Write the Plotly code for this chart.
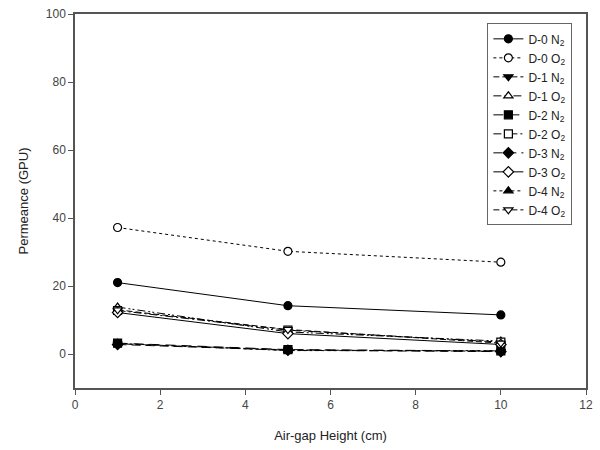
import plotly.graph_objects as go

x_vals = [1, 5, 10]

names = ["D-0 N<sub>2</sub>", "D-0 O<sub>2</sub>", "D-1 N<sub>2</sub>", "D-1 O<sub>2</sub>",
         "D-2 N<sub>2</sub>", "D-2 O<sub>2</sub>", "D-3 N<sub>2</sub>", "D-3 O<sub>2</sub>",
         "D-4 N<sub>2</sub>", "D-4 O<sub>2</sub>"]

d0_n2 = [21.0, 14.2, 11.5]
d0_o2 = [37.2, 30.2, 27.0]
d1_n2 = [3.0, 1.2, 0.8]
d1_o2 = [13.8, 6.5, 3.8]
d2_n2 = [3.2, 1.3, 0.9]
d2_o2 = [12.8, 7.0, 3.5]
d3_n2 = [2.8, 1.1, 0.7]
d3_o2 = [12.2, 6.0, 2.8]
d4_n2 = [3.1, 1.0, 1.0]
d4_o2 = [13.0, 7.2, 3.2]

series = [d0_n2, d0_o2, d1_n2, d1_o2, d2_n2, d2_o2, d3_n2, d3_o2, d4_n2, d4_o2]

dashes = ["solid", "dot", "6px,3px", "8px,3px,2px,2px,2px,3px", "10px,6px",
          "8px,3px,2px,3px", "9px,5px", "solid", "dot", "6px,3px"]
symbols = ["circle", "circle", "triangle-down", "triangle-up", "square", "square",
           "diamond", "diamond", "triangle-up", "triangle-down"]
filled = [True, False, True, False, True, False, True, False, True, False]

fig = go.Figure()
for name, ys, dash, sym, fill in zip(names, series, dashes, symbols, filled):
    fig.add_trace(go.Scatter(
        x=x_vals, y=ys, name=name, mode="lines+markers",
        line=dict(color="black", width=1, dash=dash),
        marker=dict(symbol=sym, size=8, color="black" if fill else "white",
                    line=dict(color="black", width=1.2)),
    ))

axis_common = dict(showline=True, linecolor="#555", linewidth=1.5, mirror=True,
                   ticks="outside", ticklen=5, tickcolor="#555", showgrid=False,
                   zeroline=False, tickfont=dict(size=12, color="#444",
                                                 family="Liberation Sans, Arial"))

fig.update_layout(
    width=600, height=450,
    margin=dict(l=75, r=7, t=14, b=62),
    plot_bgcolor="white", paper_bgcolor="white",
    font=dict(family="Liberation Sans, Arial", color="#222"),
    xaxis=dict(range=[0, 12], dtick=2,
               title=dict(text="Air-gap Height (cm)", font=dict(size=13), standoff=20),
               **axis_common),
    yaxis=dict(range=[-10, 100], tickvals=[0, 20, 40, 60, 80, 100],
               title=dict(text="Permeance (GPU)", font=dict(size=13), standoff=14),
               **axis_common),
    legend=dict(x=0.807, y=0.975, xanchor="left", yanchor="top",
                bordercolor="#666", borderwidth=1, bgcolor="white",
                font=dict(size=12, color="#222"),
                tracegroupgap=0),
    showlegend=True,
)

fig.write_html("out.html")
